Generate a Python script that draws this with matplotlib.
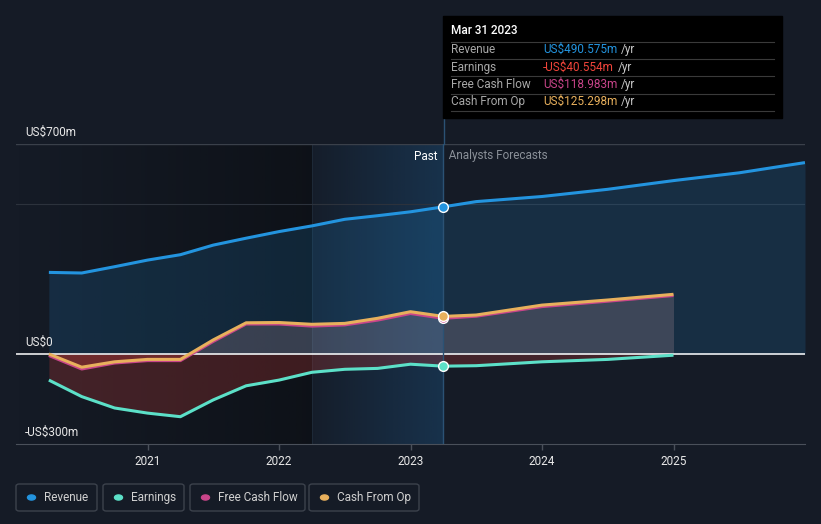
import matplotlib
matplotlib.use("Agg")
import matplotlib.pyplot as plt
from matplotlib.patches import Rectangle, FancyBboxPatch, Circle
import numpy as np

plt.rcParams['font.family'] = ['Roboto', 'DejaVu Sans']

# quarterly history (decimal years) and analyst forecasts, US$m
past_x = [2020.25, 2020.5, 2020.75, 2021.0, 2021.25, 2021.5, 2021.75,
          2022.0, 2022.25, 2022.5, 2022.75, 2023.0, 2023.25]
rev_past = [272, 270, 291, 313, 331, 363, 386, 408, 427, 449, 461, 474, 490.575]
earn_past = [-87, -142, -180, -197, -209, -153, -106, -87, -61, -51, -48, -34, -40.554]
fcf_past = [-5, -50, -30, -22, -22, 42, 100, 100, 93, 97, 113, 135, 118.983]
cfo_past = [0, -44, -26, -18, -18, 47, 104, 105, 99, 102, 119, 141, 125.298]

rev_fc_x = [2023.25, 2023.5, 2024.0, 2024.5, 2025.0, 2025.5, 2026.0]
rev_fc = [490.575, 508, 525, 549, 578, 604, 638]
fc_x = [2023.25, 2023.5, 2024.0, 2024.5, 2025.0]
earn_fc = [-40.554, -39, -26, -18, -4]
fcf_fc = [118.983, 126, 158, 176, 195]
cfo_fc = [125.298, 130, 163, 180, 199]

years = [2021, 2022, 2023, 2024, 2025]
BG = '#151b26'
C_REV, C_EARN, C_FCF, C_CFO = '#2394df', '#5ce0c8', '#c9458a', '#e8b05c'

W, H = 821, 524
fig = plt.figure(figsize=(W / 100, H / 100), dpi=100, facecolor=BG)
ax = fig.add_axes([16 / W, 80 / H, 789 / W, 300 / H])
ax.set_facecolor(BG)
ax.set_xlim(2020.0, 2026.0)
ax.set_ylim(-300, 700)

# darker past area and highlighted last year
n = 200
dark = np.zeros((1, n, 4))
dark[..., :3] = np.array([8, 10, 13]) / 255
dark[..., 3] = np.linspace(0.0, 0.55, n)
ax.imshow(dark, extent=[2020.0, 2022.25, -300, 700], aspect='auto', zorder=0)
hi = np.zeros((1, n, 4))
hi[..., :3] = np.array([30, 95, 150]) / 255
hi[..., 3] = np.linspace(0.04, 0.34, n)
ax.imshow(hi, extent=[2022.25, 2023.25, -300, 700], aspect='auto', zorder=0)
ax.axvline(2022.25, color='#1f2c3a', lw=0.6, zorder=1)

rx = past_x + rev_fc_x[1:]
ry = rev_past + rev_fc[1:]
ex = past_x + fc_x[1:]
ey = np.array(earn_past + earn_fc[1:])
fy = np.array(fcf_past + fcf_fc[1:])
cy = np.array(cfo_past + cfo_fc[1:])

ax.fill_between(rx, ry, 0, color=C_REV, alpha=0.16, lw=0, zorder=2)
ax.fill_between(ex, ey, 0, where=ey < 0, color='#d8403a', alpha=0.24, lw=0, zorder=2,
                interpolate=True)
ax.fill_between(ex, cy, 0, where=cy < 0, color='#d8403a', alpha=0.3, lw=0, zorder=2,
                interpolate=True)
ax.fill_between(ex, cy, 0, where=cy > 0, color='#d8a8b0', alpha=0.2, lw=0, zorder=2,
                interpolate=True)

# grid and baseline
ax.axhline(700, color='#3a404a', lw=1, zorder=1)
ax.axhline(500, color='#2c323c', lw=0.8, zorder=1)
ax.axhline(0, color='white', lw=1.1, zorder=3)

ax.plot(rx, ry, color=C_REV, lw=2.2, zorder=5, solid_capstyle='butt')
ax.plot(ex, ey, color=C_EARN, lw=2.2, zorder=5, solid_capstyle='butt')
ax.plot(ex, fy, color=C_FCF, lw=2.2, zorder=5, solid_capstyle='butt')
ax.plot(ex, cy, color=C_CFO, lw=2.2, zorder=5, solid_capstyle='butt')

for v, c in [(rev_past[-1], C_REV), (fcf_past[-1], C_FCF), (cfo_past[-1], C_CFO),
             (earn_past[-1], C_EARN)]:
    ax.plot([2023.25], [v], 'o', ms=7, color=c, mec='white', mew=1, zorder=6)

for s in ax.spines.values():
    s.set_visible(False)
ax.spines['bottom'].set_visible(True)
ax.spines['bottom'].set_color('#4a505a')
ax.set_xticks(years)
ax.set_xticklabels([str(y) for y in years])
ax.tick_params(axis='x', colors='#4a505a', labelcolor='#e8e8e8', labelsize=8.5,
               length=4, width=1, pad=4)
ax.set_yticks([])

for val, lab in [(700, 'US$700m'), (0, 'US$0'), (-300, '-US$300m')]:
    ax.annotate(lab, xy=(0, val), xycoords=('axes fraction', 'data'),
                xytext=(9, 5), textcoords='offset pixels', color='#e8e8e8',
                fontsize=8.5, va='bottom', ha='left')

ax.text(2023.25, 660, 'Past  ', color='white', fontsize=8.5, ha='right', va='center')
ax.text(2023.25, 660, '  Analysts Forecasts', color='#8a9098', fontsize=8.5,
        ha='left', va='center')

# vertical marker line at Mar 31 2023, through the tooltip
ax.axvline(2023.25, ymin=0, ymax=1, color='#2b5274', lw=1, zorder=4)
fig.add_artist(plt.Line2D([443.7 / W] * 2, [1 - 118 / H, 1 - 144 / H],
                          color='#2b5274', lw=1))

# tooltip
fig.add_artist(Rectangle((443 / W, 1 - 118 / H), 339 / W, 102 / H, color='black',
                         transform=fig.transFigure, zorder=10))
fig.text(451 / W, 1 - 31 / H, 'Mar 31 2023', color='white', fontsize=8.5,
         fontweight='medium', va='center', zorder=11)
for yy in [41.5, 58.5, 76, 93.5, 110.5]:
    fig.add_artist(plt.Line2D([451 / W, 774 / W], [1 - yy / H] * 2, color='#3a3a3a',
                              lw=0.8, zorder=11))
rows = [('Revenue', 'US$490.575m', C_REV), ('Earnings', '-US$40.554m', '#f0443a'),
        ('Free Cash Flow', 'US$118.983m', C_FCF), ('Cash From Op', 'US$125.298m', C_CFO)]
renderer = fig.canvas.get_renderer()
for (lab, val, c), yy in zip(rows, [49.5, 67, 84.5, 101.5]):
    fig.text(451 / W, 1 - yy / H, lab, color='#a8a8a8', fontsize=8.5, va='center', zorder=11)
    t = fig.text(543 / W, 1 - yy / H, val, color=c, fontsize=8.5, va='center', zorder=11)
    bb = t.get_window_extent(renderer)
    fig.text((bb.x1 + 4) / W, 1 - yy / H, '/yr', color='#c8c8c8', fontsize=8.5,
             va='center', zorder=11)

# legend
legend = [('Revenue', C_REV, 16, 97), ('Earnings', C_EARN, 103, 184),
          ('Free Cash Flow', C_FCF, 190, 305), ('Cash From Op', C_CFO, 309, 419)]
for lab, c, x0, x1 in legend:
    fig.add_artist(FancyBboxPatch((x0 / W, 1 - 511 / H), (x1 - x0) / W, 27 / H,
                                  boxstyle='round,pad=0,rounding_size=0.004',
                                  transform=fig.transFigure, fc='none',
                                  ec='#3c424c', lw=1))
    fig.add_artist(Circle(((x0 + 15.5) / W, 1 - 497.5 / H), 4 / W, color=c,
                          transform=fig.transFigure))
    fig.text((x0 + 28) / W, 1 - 497.5 / H, lab, color='#d0d0d0', fontsize=8.5,
             va='center', ha='left')

fig.savefig('out.png', dpi=100, facecolor=BG)
